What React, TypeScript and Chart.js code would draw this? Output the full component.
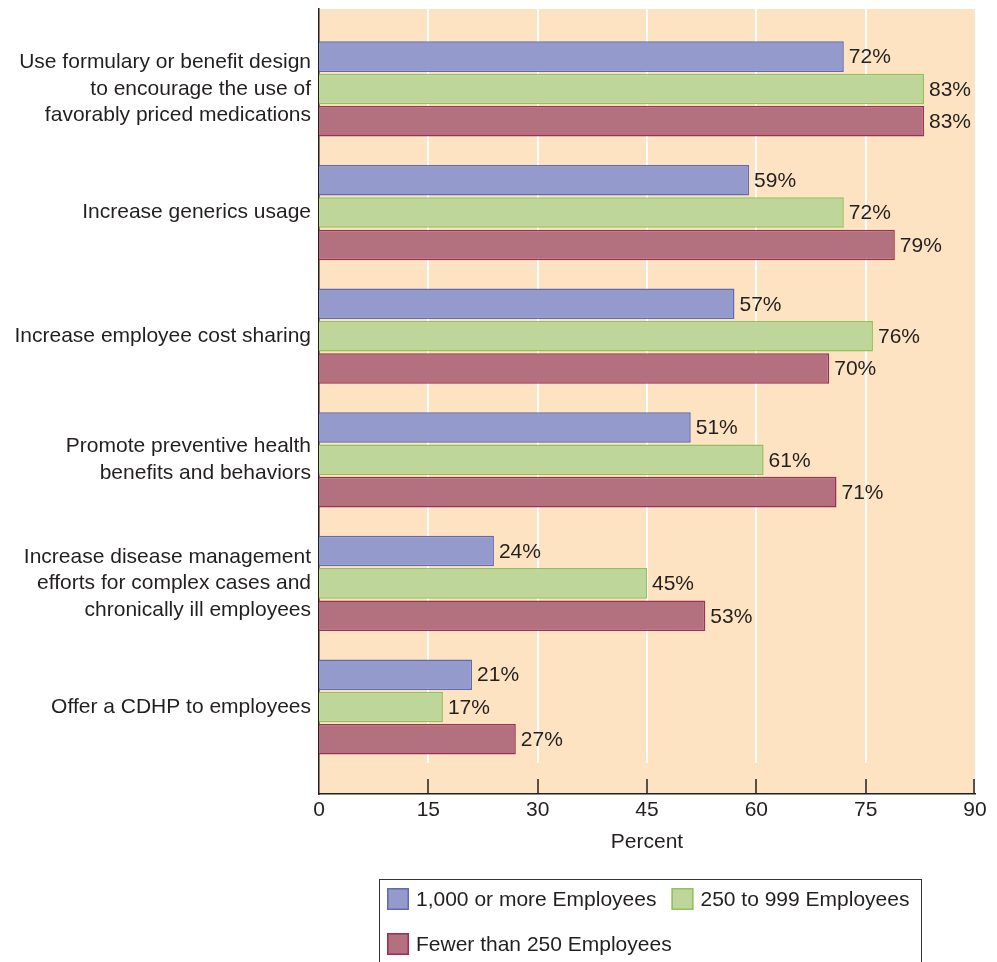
import { useEffect, useRef } from "react";
import { Chart, registerables } from "chart.js";

Chart.register(...registerables);

const categories: string[][] = [
  ["Use formulary or benefit design", "to encourage the use of", "favorably priced medications"],
  ["Increase generics usage"],
  ["Increase employee cost sharing"],
  ["Promote preventive health", "benefits and behaviors"],
  ["Increase disease management", "efforts for complex cases and", "chronically ill employees"],
  ["Offer a CDHP to employees"],
];

const seriesLabels = ["1,000 or more Employees", "250 to 999 Employees", "Fewer than 250 Employees"];
const largeEmployers = [72, 59, 57, 51, 24, 21];
const midEmployers = [83, 72, 76, 61, 45, 17];
const smallEmployers = [83, 79, 70, 71, 53, 27];
const xTicks = [0, 15, 30, 45, 60, 75, 90];

const fills = ["#949ACB", "#BFD69B", "#B3707F"];
const borders = ["#5E6AB4", "#8DC35A", "#9B2F55"];
const PEACH = "#FDE3C1";
const TEXT = "#231F20";
const FAMILY = "'Liberation Sans', Arial, Helvetica, sans-serif";

const bgPlugin = {
  id: "bgPlugin",
  beforeDraw(chart: any) {
    const { ctx, chartArea } = chart;
    ctx.save();
    ctx.fillStyle = PEACH;
    ctx.fillRect(chartArea.left, chartArea.top, chartArea.right - chartArea.left, chartArea.bottom - chartArea.top);
    ctx.restore();
  },
};

const gridPlugin = {
  id: "gridPlugin",
  beforeDatasetsDraw(chart: any) {
    const { ctx, chartArea, scales } = chart;
    const xs = scales.x;
    ctx.save();
    for (const v of xTicks) {
      const px = Math.round(xs.getPixelForValue(v));
      if (v > 0 && v < 90) {
        ctx.strokeStyle = "#FFFFFF";
        ctx.lineWidth = 2;
        ctx.beginPath();
        ctx.moveTo(px, chartArea.top);
        ctx.lineTo(px, chartArea.bottom - 31);
        ctx.stroke();
      }
      if (v > 0) {
        ctx.strokeStyle = TEXT;
        ctx.lineWidth = 1.5;
        ctx.beginPath();
        ctx.moveTo(px - (v === 90 ? 1 : 0), chartArea.bottom - 15);
        ctx.lineTo(px - (v === 90 ? 1 : 0), chartArea.bottom);
        ctx.stroke();
      }
    }
    ctx.restore();
  },
};

const valueLabelPlugin = {
  id: "valueLabelPlugin",
  afterDatasetsDraw(chart: any) {
    const { ctx } = chart;
    ctx.save();
    ctx.font = `21px ${FAMILY}`;
    ctx.fillStyle = TEXT;
    ctx.textAlign = "left";
    ctx.textBaseline = "middle";
    chart.data.datasets.forEach((ds: any, di: number) => {
      const meta = chart.getDatasetMeta(di);
      meta.data.forEach((bar: any, i: number) => {
        const v = ds.data[i].x;
        ctx.fillText(`${v}%`, bar.x + 5, bar.y + 1);
      });
    });
    ctx.restore();
  },
};

const legendPlugin = {
  id: "boxLegend",
  afterDraw(chart: any) {
    const { ctx, chartArea } = chart;
    const boxLeft = 379.5;
    const boxRight = 921.5;
    const boxTop = chartArea.bottom + 85.5;
    ctx.save();
    ctx.strokeStyle = "#333333";
    ctx.lineWidth = 1;
    ctx.strokeRect(boxLeft, boxTop, boxRight - boxLeft, 200);
    ctx.font = `21px ${FAMILY}`;
    ctx.textAlign = "left";
    ctx.textBaseline = "middle";
    const sq = 22;
    const startX = boxLeft + 7.5;
    let x = startX;
    let rowTop = boxTop + 8.5;
    chart.data.datasets.forEach((ds: any) => {
      const w = ctx.measureText(ds.label).width;
      const itemW = sq + 7 + w;
      if (x > startX && x + itemW > boxRight - 4) {
        x = startX;
        rowTop += 45;
      }
      ctx.fillStyle = ds.backgroundColor;
      ctx.fillRect(x, rowTop, sq, sq);
      ctx.strokeStyle = ds.borderColor;
      ctx.lineWidth = 1.5;
      ctx.strokeRect(x + 0.75, rowTop + 0.75, sq - 1.5, sq - 1.5);
      ctx.fillStyle = TEXT;
      ctx.fillText(ds.label, x + sq + 7, rowTop + sq / 2 + 1);
      x += itemW + 15;
    });
    ctx.restore();
  },
};

export default function App() {
  const canvasRef = useRef<HTMLCanvasElement | null>(null);

  useEffect(() => {
    const canvas = canvasRef.current;
    if (!canvas) return;
    const series = [largeEmployers, midEmployers, smallEmployers];
    const chart = new Chart(canvas, {
      type: "bar",
      data: {
        datasets: series.map((vals, si) => ({
          label: seriesLabels[si],
          data: vals.map((v, i) => ({ x: v, y: i })),
          backgroundColor: fills[si],
          borderColor: borders[si],
          borderWidth: 1.5,
          categoryPercentage: 0.785,
          barPercentage: 0.944,
        })),
      },
      options: {
        indexAxis: "y",
        responsive: false,
        animation: false,
        events: [],
        layout: { padding: { top: 9, right: 22, bottom: 108, left: 0 } },
        plugins: {
          legend: { display: false },
          tooltip: { enabled: false },
        },
        scales: {
          x: {
            type: "linear",
            min: 0,
            max: 90,
            offset: false,
            afterBuildTicks: (s: any) => {
              s.ticks = xTicks.map((v) => ({ value: v }));
            },
            afterFit: (s: any) => {
              s.height = 60;
              s.paddingLeft = 0;
              s.paddingRight = 0;
            },
            ticks: {
              color: TEXT,
              font: { family: FAMILY, size: 21, lineHeight: 1.2 },
              padding: 4,
              maxRotation: 0,
              autoSkip: false,
            },
            grid: { display: false, drawTicks: false, offset: false },
            border: { display: true, color: TEXT, width: 1.5 },
            title: {
              display: true,
              text: "Percent",
              color: TEXT,
              font: { family: FAMILY, size: 21, lineHeight: 1.15 },
              padding: 0,
            },
          },
          y: {
            type: "linear",
            reverse: true,
            offset: false,
            min: -0.647,
            max: 5.704,
            afterBuildTicks: (s: any) => {
              s.ticks = categories.map((_, i) => ({ value: i }));
            },
            afterFit: (s: any) => {
              s.width = 319;
              s.paddingTop = 0;
              s.paddingBottom = 0;
            },
            ticks: {
              color: TEXT,
              font: { family: FAMILY, size: 21, lineHeight: 1.26 },
              padding: 8,
              autoSkip: false,
              callback: (value: any) => categories[Number(value)] ?? "",
            },
            grid: { display: false, drawTicks: false, offset: false },
            border: { display: true, color: TEXT, width: 1.5 },
          },
        },
      } as any,
      plugins: [bgPlugin, gridPlugin, valueLabelPlugin, legendPlugin],
    });
    return () => chart.destroy();
  }, []);

  return (
    <div style={{ position: "absolute", left: 0, top: 0, width: 997, height: 962, overflow: "hidden", background: "#fff" }}>
      <canvas ref={canvasRef} width={997} height={962} style={{ display: "block" }} />
    </div>
  );
}
